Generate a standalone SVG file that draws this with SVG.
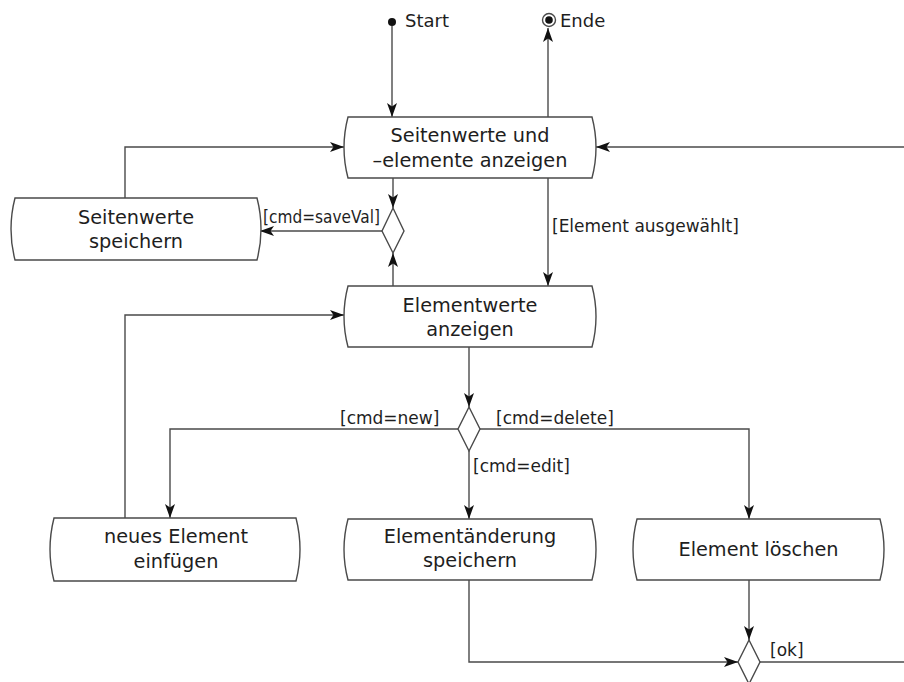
<svg xmlns="http://www.w3.org/2000/svg" width="904" height="682" viewBox="0 0 904 682">
<style>
.node path{fill:#fff;stroke:#4a4a4a;stroke-width:1.4}
.nt{font-family:"DejaVu Sans",sans-serif;font-size:19.3px;fill:#1e1e1e;text-anchor:middle}
.lbl{font-family:"DejaVu Sans",sans-serif;font-size:17px;fill:#1e1e1e}
.conn path{fill:none;stroke:#4a4a4a;stroke-width:1.4}
.dia{fill:#fff;stroke:#4a4a4a;stroke-width:1.4}
</style>
<defs>
<marker id="ah" markerUnits="userSpaceOnUse" markerWidth="16" markerHeight="12" refX="14" refY="5" orient="auto">
<path d="M0,0 L14,5 L0,10 L3.5,5 Z" fill="#111"/>
</marker>
</defs>
<rect width="904" height="682" fill="#fff"/>
<g id="connectors" class="conn">
<path d="M392,26 V117" marker-end="url(#ah)"/>
<path d="M548,117 V28" marker-end="url(#ah)"/>
<path d="M125,198 V147 H344" marker-end="url(#ah)"/>
<path d="M904,147 H596" marker-end="url(#ah)"/>
<path d="M393,178 V208" marker-end="url(#ah)"/>
<path d="M382,231 H260" marker-end="url(#ah)"/>
<path d="M393,286 V253" marker-end="url(#ah)"/>
<path d="M548,178 V286" marker-end="url(#ah)"/>
<path d="M125,518 V315 H344" marker-end="url(#ah)"/>
<path d="M469,347 V407" marker-end="url(#ah)"/>
<path d="M458,429 H170 V518" marker-end="url(#ah)"/>
<path d="M469,451 V519" marker-end="url(#ah)"/>
<path d="M480,429 H749 V519" marker-end="url(#ah)"/>
<path d="M469,580 V662 H738" marker-end="url(#ah)"/>
<path d="M749,580 V640" marker-end="url(#ah)"/>
<path d="M760,662 H904"/>
</g>
<g id="start"><circle cx="392" cy="22" r="4" fill="#111"/><text class="lbl" x="405" y="27" style="font-size:18px">Start</text></g>
<g id="ende"><circle cx="549" cy="20" r="6.5" fill="#fff" stroke="#4a4a4a" stroke-width="1.4"/><circle cx="549" cy="20" r="3.8" fill="#111"/><text class="lbl" x="560" y="27" style="font-size:18px">Ende</text></g>
<g id="n1" class="node"><path d="M348,117 H592 Q600,147.5 592,178 H348 Q340,147.5 348,117 Z"/><text class="nt" x="470" y="142">Seitenwerte und</text><text class="nt" x="470" y="167">–elemente anzeigen</text></g>
<g id="n2" class="node"><path d="M15,198 H257 Q265,229 257,260 H15 Q7,229 15,198 Z"/><text class="nt" x="136" y="224">Seitenwerte</text><text class="nt" x="136" y="248">speichern</text></g>
<g id="d1"><path class="dia" d="M393,208 L404,231 L393,253 L382,231 Z"/></g>
<g id="n3" class="node"><path d="M348,286 H592 Q600,316.5 592,347 H348 Q340,316.5 348,286 Z"/><text class="nt" x="470" y="312">Elementwerte</text><text class="nt" x="470" y="336">anzeigen</text></g>
<g id="d2"><path class="dia" d="M469,407 L480,429 L469,451 L458,429 Z"/></g>
<g id="n4" class="node"><path d="M54,518 H296 Q304,549.5 296,581 H54 Q46,549.5 54,518 Z"/><text class="nt" x="176" y="543">neues Element</text><text class="nt" x="176" y="568">einfügen</text></g>
<g id="n5" class="node"><path d="M348,519 H592 Q600,549.5 592,580 H348 Q340,549.5 348,519 Z"/><text class="nt" x="470" y="543">Elementänderung</text><text class="nt" x="470" y="567">speichern</text></g>
<g id="n6" class="node"><path d="M637,519 H880 Q888,549.5 880,580 H637 Q629,549.5 637,519 Z"/><text class="nt" x="758.5" y="556">Element löschen</text></g>
<g id="d3"><path class="dia" d="M749,640 L760,662 L749,684 L738,662 Z"/></g>
<g id="labels">
<text class="lbl" x="263" y="223" textLength="117" lengthAdjust="spacingAndGlyphs">[cmd=saveVal]</text>
<text class="lbl" x="552" y="232">[Element ausgewählt]</text>
<text class="lbl" x="340" y="424">[cmd=new]</text>
<text class="lbl" x="496" y="424">[cmd=delete]</text>
<text class="lbl" x="473" y="472">[cmd=edit]</text>
<text class="lbl" x="770" y="656">[ok]</text>
</g>
</svg>
